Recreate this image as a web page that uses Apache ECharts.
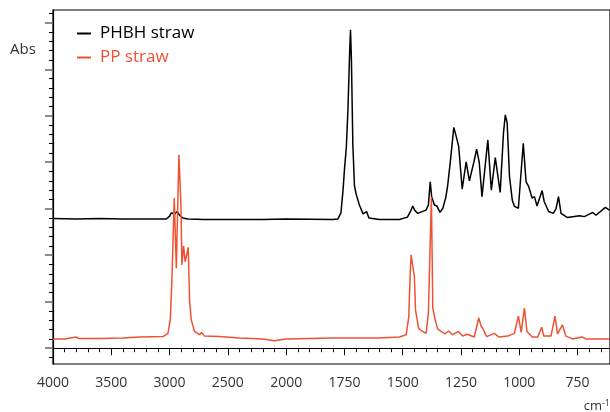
<!DOCTYPE html>
<html>
<head>
<meta charset="utf-8">
<script src="https://cdn.jsdelivr.net/npm/echarts@6/dist/echarts.min.js"></script>
<style>html,body{margin:0;padding:0;background:#fff}#c{width:610px;height:412px}</style>
</head>
<body>
<div id="c"></div>
<script>
// ---- data (wavenumber cm-1, absorbance, arbitrary offset units) ----
const PHBH_WN = [4000,3800,3600,3400,3200,3050,3028,3000,2985,2970,2957,2934,2915,2886,2843,2700,2500,2200,2000,1800,1778,1765,1756,1750,1742,1735,1728,1724,1720,1714,1707,1700,1693,1686,1670,1655,1645,1600,1550,1514,1480,1465,1457,1448,1436,1400,1390,1382,1376,1364,1354,1340,1328,1315,1307,1295,1281,1274,1268,1260,1245,1228,1214,1195,1183,1172,1160,1135,1120,1103,1082,1068,1060,1052,1042,1030,1021,1004,983,971,960,945,935,924,902,893,874,854,842,832,821,793,742,721,685,671,631,614];
const PHBH_ABS = [0.279,0.278,0.279,0.278,0.278,0.278,0.278,0.284,0.291,0.288,0.289,0.294,0.286,0.280,0.278,0.277,0.277,0.277,0.278,0.277,0.278,0.291,0.340,0.384,0.431,0.512,0.631,0.685,0.620,0.439,0.349,0.332,0.328,0.308,0.289,0.294,0.280,0.277,0.277,0.277,0.282,0.296,0.306,0.296,0.290,0.297,0.308,0.358,0.326,0.308,0.306,0.292,0.301,0.325,0.351,0.405,0.475,0.462,0.464,0.434,0.342,0.401,0.360,0.400,0.428,0.400,0.326,0.448,0.340,0.410,0.335,0.462,0.502,0.484,0.369,0.318,0.305,0.301,0.441,0.358,0.348,0.323,0.326,0.306,0.339,0.315,0.294,0.290,0.301,0.326,0.290,0.281,0.285,0.283,0.292,0.286,0.303,0.297];

const PP_WN = [4000,3900,3800,3780,3600,3400,3256,3057,3014,2994,2980,2960,2942,2920,2903,2894,2880,2866,2840,2828,2814,2786,2743,2726,2700,2571,2400,2200,2100,2050,2000,1800,1600,1514,1485,1474,1468,1464,1457,1450,1445,1440,1432,1421,1400,1390,1377,1371,1367,1361,1350,1335,1328,1318,1303,1286,1261,1243,1224,1193,1174,1164,1157,1140,1107,1088,1050,1021,1004,992,978,967,945,921,904,895,864,847,836,815,800,772,731,714,614];
const PP_ABS = [0.020,0.020,0.024,0.021,0.021,0.022,0.024,0.025,0.032,0.061,0.147,0.323,0.172,0.416,0.312,0.179,0.220,0.186,0.217,0.100,0.061,0.036,0.029,0.034,0.026,0.025,0.022,0.020,0.016,0.018,0.020,0.022,0.022,0.024,0.029,0.068,0.160,0.201,0.203,0.154,0.082,0.079,0.043,0.038,0.032,0.075,0.325,0.086,0.088,0.061,0.041,0.036,0.038,0.031,0.037,0.029,0.036,0.026,0.030,0.024,0.065,0.048,0.043,0.025,0.032,0.024,0.026,0.032,0.069,0.034,0.086,0.036,0.024,0.024,0.045,0.026,0.026,0.069,0.031,0.050,0.026,0.020,0.024,0.020,0.020];

const X_TICKS = [4000,3500,3000,2500,2000,1750,1500,1250,1000,750];
const Y_TICKS = [0,0.1,0.2,0.3,0.4,0.5,0.6,0.7];
const SERIES_NAMES = ['PHBH straw','PP straw'];

// ---- helpers ----
// FTIR display: 2x expansion below 2000 cm-1
function toP(wn){ return wn >= 2000 ? (4000 - wn)/500 : 4 + (2000 - wn)/250; }
function toWn(p){ return p <= 4 ? 4000 - 500*p : 2000 - 250*(p-4); }

const RED = '#ee5233';
const XMIN = 0, XMAX = toP(611);
const YMIN = -0.034, YMAX = 0.7275;

const xMajor = X_TICKS.map(toP);
const xMinor = [];
for (let i = 0; i < xMajor.length; i++) {
  const a = xMajor[i], b = i + 1 < xMajor.length ? xMajor[i+1] : a + 1;
  for (let k = 1; k < 5; k++) { const v = a + (b - a)*k/5; if (v < XMAX) xMinor.push(+v.toFixed(4)); }
}
const yMinor = [];
for (let k = -1; k <= 36; k++) { if (k % 5 !== 0) yMinor.push(+(k*0.02).toFixed(3)); }

const FONT = 'Open Sans';
const chart = echarts.init(document.getElementById('c'), null, {renderer:'canvas'});
chart.setOption({
  animation: false,
  backgroundColor: '#fff',
  textStyle: {fontFamily: FONT},
  title: [{text:'Abs', left: 5, top: 37, textStyle:{fontSize:15, fontWeight:'normal', color:'#333', fontFamily: FONT}}],
  legend: {
    orient:'vertical', left: 72, top: 20, itemWidth: 14, itemHeight: 2, itemGap: 7, icon:'rect',
    textStyle:{fontSize:17, fontFamily: FONT, padding:[0,0,0,4]},
    data:[{name:SERIES_NAMES[0], textStyle:{color:'#000'}},{name:SERIES_NAMES[1], textStyle:{color:RED}}]
  },
  graphic: [{type:'text', right: 0, bottom: -1, style:{text:'{a|cm}{b|-1}', rich:{a:{fontSize:13, fontFamily:FONT, fill:'#333'}, b:{fontSize:9, fontFamily:FONT, fill:'#333', verticalAlign:'top', padding:[0,0,6,0]}}}}],
  grid: [
    {left: 53, right: -1, top: 10, bottom: 48, show: true, borderColor:'#000', borderWidth: 1.2},
    {left: 53, right: -1, top: 10, bottom: 48}
  ],
  xAxis: [
    {type:'value', gridIndex:0, min:XMIN, max:XMAX, position:'bottom',
     axisLine:{show:true, lineStyle:{color:'#000', width:1.2}},
     axisTick:{show:true, customValues: xMajor, length:7, lineStyle:{color:'#000'}},
     axisLabel:{show:true, customValues: xMajor, margin: 12, fontSize:14, color:'#333', fontFamily: FONT,
       formatter: function(v){ return String(Math.round(toWn(v))); }},
     splitLine:{show:false}},
    {type:'value', gridIndex:1, min:XMIN, max:XMAX, position:'bottom',
     axisLine:{show:false},
     axisTick:{show:true, customValues: xMinor, length:4, lineStyle:{color:'#000'}},
     axisLabel:{show:false}, splitLine:{show:false}}
  ],
  yAxis: [
    {type:'value', gridIndex:0, min:YMIN, max:YMAX, position:'left',
     axisLine:{show:true, lineStyle:{color:'#000', width:1.2}},
     axisTick:{show:true, customValues: Y_TICKS, length:8, lineStyle:{color:'#666', width:1.5}},
     axisLabel:{show:false}, splitLine:{show:false}},
    {type:'value', gridIndex:1, min:YMIN, max:YMAX, position:'left',
     axisLine:{show:false},
     axisTick:{show:true, customValues: yMinor, length:4, lineStyle:{color:'#000'}},
     axisLabel:{show:false}, splitLine:{show:false}}
  ],
  series: [
    {name:SERIES_NAMES[0], type:'line', xAxisIndex:0, yAxisIndex:0, showSymbol:false, symbol:'none',
     color:'#000', lineStyle:{color:'#000', width:1.5},
     data: PHBH_WN.map((w,i)=>[toP(w), PHBH_ABS[i]])},
    {name:SERIES_NAMES[1], type:'line', xAxisIndex:0, yAxisIndex:0, showSymbol:false, symbol:'none',
     color:RED, lineStyle:{color:RED, width:1.5},
     data: PP_WN.map((w,i)=>[toP(w), PP_ABS[i]])}
  ]
});
</script>
</body>
</html>
